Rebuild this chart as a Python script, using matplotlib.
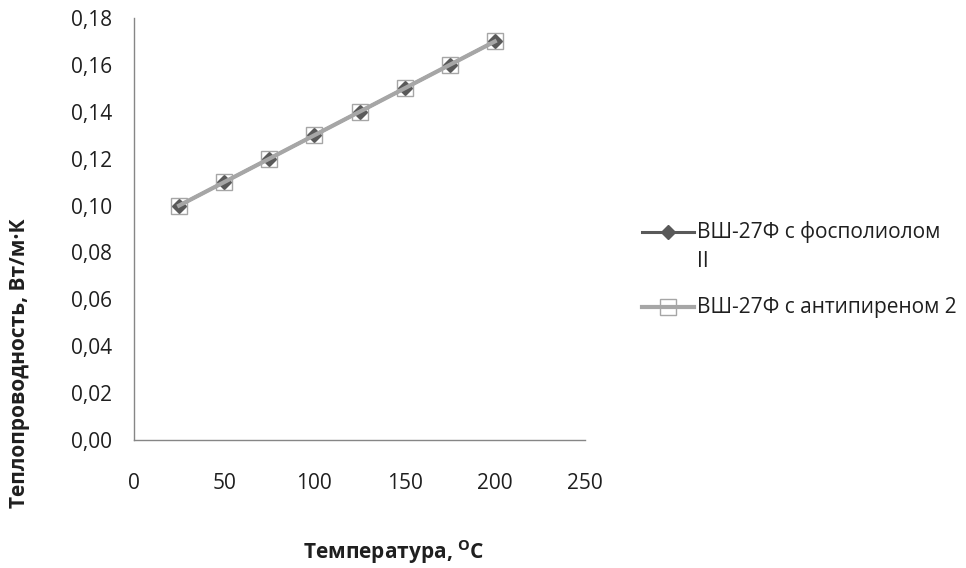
import matplotlib
matplotlib.use("Agg")
import matplotlib.pyplot as plt
from matplotlib.lines import Line2D

plt.rcParams['font.family'] = ['Open Sans', 'DejaVu Sans']

temperature = [25, 50, 75, 100, 125, 150, 175, 200]
conductivity_fospoliol = [0.10, 0.11, 0.12, 0.13, 0.14, 0.15, 0.16, 0.17]
conductivity_antipiren = [0.10, 0.11, 0.12, 0.13, 0.14, 0.15, 0.16, 0.17]
series_labels = ["ВШ-27Ф с фосполиолом\nII", "ВШ-27Ф с антипиреном 2"]
x_ticks = [0, 50, 100, 150, 200, 250]
y_ticks = [0.00, 0.02, 0.04, 0.06, 0.08, 0.10, 0.12, 0.14, 0.16, 0.18]

dark = "#595959"
light = "#A6A6A6"
text_color = "#1f1f1f"
fs = 15

fig = plt.figure(figsize=(9.66, 5.68), dpi=100)
ax = fig.add_axes([134 / 966, 1 - 440 / 568, 451 / 966, 422 / 568])

ax.plot(temperature, conductivity_fospoliol, color=dark, lw=2.2,
        marker='D', markersize=7, markerfacecolor=dark, markeredgecolor=dark,
        zorder=3)
ax.plot(temperature, conductivity_antipiren, color=light, lw=3,
        marker='s', markersize=11, markerfacecolor='none',
        markeredgecolor=light, markeredgewidth=1.0, zorder=4)

ax.set_xlim(0, 250)
ax.set_ylim(0, 0.18)
ax.set_xticks(x_ticks)
ax.set_xticklabels([str(v) for v in x_ticks])
ax.set_yticks(y_ticks)
ax.set_yticklabels([f"{v:.2f}".replace('.', ',') for v in y_ticks])
ax.tick_params(axis='both', length=0, labelsize=fs, colors=text_color)
ax.tick_params(axis='x', pad=24)
ax.tick_params(axis='y', pad=16)

for side in ('top', 'right'):
    ax.spines[side].set_visible(False)
for side in ('left', 'bottom'):
    ax.spines[side].set_color('#868686')
    ax.spines[side].set_linewidth(1.0)

fig.text(394 / 966, 1 - 552 / 568, r'Температура, $^{\mathregular{O}}$C',
         ha='center', va='center', fontsize=fs, fontweight='bold',
         color=text_color)
fig.text(20 / 966, 1 - 363 / 568, 'Теплопроводность, Вт/м·К',
         ha='center', va='center', rotation=90, fontsize=fs,
         fontweight='bold', color=text_color)

# Legend drawn by hand so the key sits on the first line of a wrapped label
def key(y_px, color, lw, **mk):
    y = 1 - y_px / 568
    fig.add_artist(Line2D([642 / 966, 694 / 966], [y, y], color=color, lw=lw,
                          transform=fig.transFigure))
    fig.add_artist(Line2D([668 / 966], [y], color=color, linestyle='none',
                          transform=fig.transFigure, **mk))

key(232, dark, 2.2, marker='D', markersize=7, markerfacecolor=dark,
    markeredgecolor=dark)
key(307, light, 3, marker='s', markersize=11, markerfacecolor='none',
    markeredgecolor=light, markeredgewidth=1.0)

first_lines = series_labels[0].split("\n")
for i, line in enumerate(first_lines):
    fig.text(697 / 966, 1 - (232 + 30 * i) / 568, line, ha='left',
             va='center', fontsize=fs, color=text_color)
fig.text(697 / 966, 1 - 307 / 568, series_labels[1], ha='left', va='center',
         fontsize=fs, color=text_color)

fig.savefig("out.png", dpi=100)
